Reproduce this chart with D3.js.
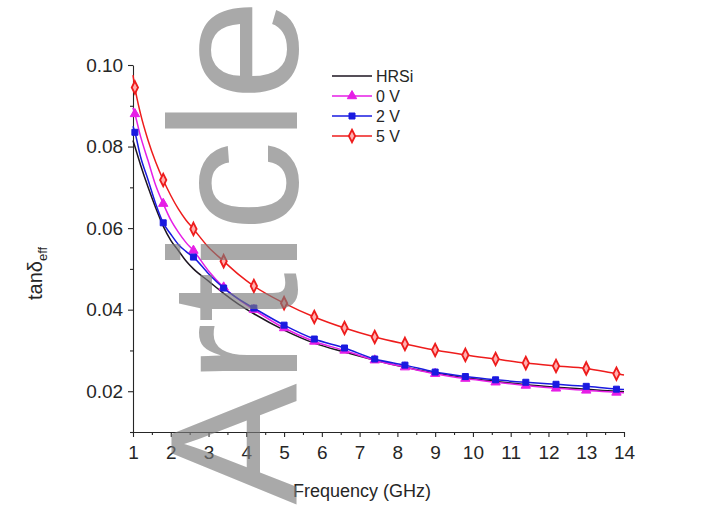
<!DOCTYPE html>
<html>
<head>
<meta charset="utf-8">
<script src="https://cdn.jsdelivr.net/npm/d3@7"></script>
<style>
  html, body { margin: 0; padding: 0; background: #fff; }
  svg { display: block; font-family: "Liberation Sans", Arial, sans-serif; }
</style>
</head>
<body>
<svg id="chart" width="714" height="510"></svg>
<script>
// Frequency points (GHz) shared by all series
const freq = [1.0, 1.05, 1.2, 1.4, 1.6, 1.8, 2.0, 2.2, 2.4, 2.6, 3.0, 3.4, 3.8, 4.2,
              5.0, 5.8, 6.6, 7.4, 8.2, 9.0, 9.8, 10.6, 11.4, 12.2, 13.0, 13.8, 14.0];

// Effective loss tangent per bias condition
const hrsi = [0.0815, 0.0800, 0.0755, 0.0700, 0.0650, 0.0605, 0.0570, 0.0545, 0.0520, 0.0500, 0.0470, 0.0440, 0.0413, 0.0390,
              0.0350, 0.0318, 0.0296, 0.0276, 0.0259, 0.0245, 0.0233, 0.0224, 0.0216, 0.0210, 0.0205, 0.0200, 0.0199];
const v0   = [0.0895, 0.0880, 0.0825, 0.0765, 0.0705, 0.0660, 0.0620, 0.0590, 0.0565, 0.0545, 0.0495, 0.0455, 0.0425, 0.0400,
              0.0355, 0.0322, 0.0300, 0.0276, 0.0259, 0.0243, 0.0231, 0.0222, 0.0214, 0.0207, 0.0202, 0.0197, 0.0196];
const v2   = [0.0850, 0.0835, 0.0775, 0.0718, 0.0660, 0.0613, 0.0585, 0.0560, 0.0543, 0.0529, 0.0488, 0.0453, 0.0426, 0.0404,
              0.0362, 0.0328, 0.0306, 0.0279, 0.0264, 0.0247, 0.0236, 0.0228, 0.0222, 0.0217, 0.0212, 0.0205, 0.0204];
const v5   = [0.0975, 0.0945, 0.0880, 0.0815, 0.0762, 0.0718, 0.0680, 0.0647, 0.0620, 0.0598, 0.0553, 0.0519, 0.0486, 0.0458,
              0.0416, 0.0382, 0.0355, 0.0333, 0.0316, 0.0301, 0.0289, 0.0279, 0.0269, 0.0262, 0.0256, 0.0243, 0.0240];

// Frequencies that carry a symbol
const markerFreq = [1.05, 1.8, 2.6, 3.4, 4.2, 5.0, 5.8, 6.6, 7.4, 8.2, 9.0, 9.8, 10.6, 11.4, 12.2, 13.0, 13.8];

// Axis ticks
const xTicks = [1, 2, 3, 4, 5, 6, 7, 8, 9, 10, 11, 12, 13, 14];
const xMinor = [1.5, 2.5, 3.5, 4.5, 5.5, 6.5, 7.5, 8.5, 9.5, 10.5, 11.5, 12.5, 13.5];
const yTicks = [0.02, 0.04, 0.06, 0.08, 0.10];
const yMinor = [0.01, 0.03, 0.05, 0.07, 0.09];

const seriesNames = ["HRSi", "0 V", "2 V", "5 V"];
const seriesValues = [hrsi, v0, v2, v5];
const seriesColors = ["#1c1420", "#e61ee6", "#1a1ae0", "#ee1c1c"];
const seriesSymbols = [null, "triangle", "square", "diamond"];

const svg = d3.select("#chart");
const plotLeft = 133, plotRight = 624, plotTop = 65, plotBottom = 432;

const x = d3.scaleLinear().domain([1, 14]).range([plotLeft, plotRight]);
const y = d3.scaleLinear().domain([0.01, 0.10]).range([plotBottom, plotTop]);

const axisColor = "#262626";

// X axis
const gx = svg.append("g").attr("transform", `translate(0,${plotBottom})`);
gx.call(d3.axisBottom(x).tickValues(xTicks).tickFormat(d3.format("d")).tickSize(5).tickSizeOuter(0));
gx.append("g").call(d3.axisBottom(x).tickValues(xMinor).tickFormat("").tickSize(3).tickSizeOuter(0))
  .select(".domain").remove();

// Y axis
const gy = svg.append("g").attr("transform", `translate(${plotLeft},0)`);
gy.call(d3.axisLeft(y).tickValues(yTicks).tickFormat(d3.format(".2f")).tickSize(5).tickSizeOuter(0));
gy.append("g").call(d3.axisLeft(y).tickValues(yMinor).tickFormat("").tickSize(3).tickSizeOuter(0))
  .select(".domain").remove();

svg.selectAll(".domain, .tick line").attr("stroke", axisColor).attr("stroke-width", 1.1);
gx.selectAll(".tick text").attr("font-size", 19).attr("fill", axisColor).attr("dy", "1.0em")
  .attr("font-family", "Liberation Sans, Arial, sans-serif");
gy.selectAll(".tick text").attr("font-size", 19).attr("fill", axisColor).attr("dx", "-0.1em")
  .attr("font-family", "Liberation Sans, Arial, sans-serif");

// Axis titles
svg.append("text")
  .attr("x", 362).attr("y", 497)
  .attr("text-anchor", "middle")
  .attr("font-size", 18).attr("fill", axisColor)
  .text("Frequency (GHz)");

const yTitle = svg.append("text")
  .attr("transform", "translate(42,300) rotate(-90)")
  .attr("font-size", 20).attr("fill", axisColor);
yTitle.append("tspan").text("tanδ");
yTitle.append("tspan").attr("font-size", 13).attr("dy", 5).text("eff");

// Symbols
const symbolType = { triangle: d3.symbolTriangle, square: d3.symbolSquare, diamond: d3.symbolDiamond };
const symbolSize = { triangle: 38, square: 36, diamond: 34 };

function drawSymbol(g, kind, color, cx, cy) {
  const path = d3.symbol().type(symbolType[kind]).size(symbolSize[kind])();
  const s = g.append("path")
    .attr("d", path)
    .attr("transform", `translate(${cx},${cy})` + (kind === "diamond" ? " scale(1,1.15)" : ""));
  if (kind === "diamond") {
    s.attr("fill", "#ffb0b0").attr("stroke", color).attr("stroke-width", 1.8);
  } else {
    s.attr("fill", color).attr("stroke", color).attr("stroke-width", 1);
  }
}

const line = d3.line().x(d => x(d[0])).y(d => y(d[1])).curve(d3.curveMonotoneX);
const plot = svg.append("g");

seriesNames.forEach((name, i) => {
  const pts = freq.map((f, j) => [f, seriesValues[i][j]]);
  plot.append("path")
    .datum(pts)
    .attr("fill", "none")
    .attr("stroke", seriesColors[i])
    .attr("stroke-width", 1.5)
    .attr("d", line);
  if (seriesSymbols[i]) {
    const g = plot.append("g");
    pts.filter(p => markerFreq.includes(p[0]))
       .forEach(p => drawSymbol(g, seriesSymbols[i], seriesColors[i], x(p[0]), y(p[1])));
  }
});

// Legend
const legend = svg.append("g");
seriesNames.forEach((name, i) => {
  const ly = 76 + i * 20;
  legend.append("line")
    .attr("x1", 332).attr("x2", 372).attr("y1", ly).attr("y2", ly)
    .attr("stroke", seriesColors[i]).attr("stroke-width", 1.5);
  if (seriesSymbols[i]) drawSymbol(legend, seriesSymbols[i], seriesColors[i], 352, ly);
  legend.append("text")
    .attr("x", 376).attr("y", ly).attr("dy", "0.36em")
    .attr("font-size", 16).attr("fill", axisColor)
    .text(name);
});

// Watermark
svg.append("text")
  .attr("transform", "translate(297,252) rotate(-90)")
  .attr("text-anchor", "middle")
  .attr("font-size", 182)
  .attr("fill", "#7b7b7b")
  .attr("fill-opacity", 0.65)
  .text("Article");
</script>
</body>
</html>
